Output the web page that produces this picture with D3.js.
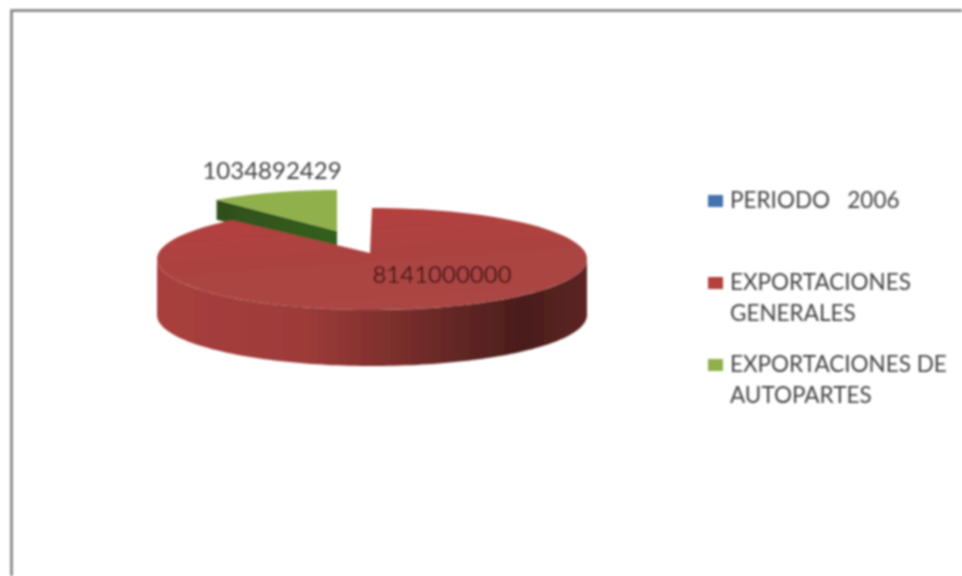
<!DOCTYPE html>
<html><head><meta charset="utf-8">
<script src="https://cdn.jsdelivr.net/npm/d3@7"></script>
<style>html,body{margin:0;padding:0;background:#fff}svg{display:block}text{font-family:Lato,"Open Sans",sans-serif}</style>
</head><body><svg id="c" width="962" height="576"></svg>
<script>
const categories = ["PERIODO   2006", "EXPORTACIONES GENERALES", "EXPORTACIONES DE AUTOPARTES"];
const values = [0, 8141000000, 1034892429];
const legendLines = [["PERIODO   2006"], ["EXPORTACIONES", "GENERALES"], ["EXPORTACIONES DE", "AUTOPARTES"]];
const colors = ["#4472b0", "#b5403e", "#90b04c"];

const svg = d3.select("#c");
const defs = svg.append("defs");
defs.append("filter").attr("id","blur").attr("x","-5%").attr("y","-5%").attr("width","110%").attr("height","110%")
  .append("feGaussianBlur").attr("stdDeviation",0.8);
const wall = defs.append("linearGradient").attr("id","wall").attr("gradientUnits","userSpaceOnUse")
  .attr("x1",157).attr("x2",587).attr("y1",0).attr("y2",0);
[[0,"#a8403e"],[0.35,"#9c3b39"],[0.62,"#702b29"],[0.85,"#4a1d1c"],[1,"#5c2523"]].forEach(([o,c])=>wall.append("stop").attr("offset",o).attr("stop-color",c));
const face = defs.append("linearGradient").attr("id","face").attr("x1",0).attr("x2",0.3).attr("y1",0).attr("y2",1);
[[0,"#b83f3d"],[0.5,"#ac4341"],[1,"#aa4644"]].forEach(([o,c])=>face.append("stop").attr("offset",o).attr("stop-color",c));
const side = defs.append("linearGradient").attr("id","gside").attr("x1",0).attr("x2",1);
[[0,"#2f4f1c"],[1,"#33601a"]].forEach(([o,c])=>side.append("stop").attr("offset",o).attr("stop-color",c));

const root = svg.append("g").attr("filter","url(#blur)");
root.append("path").attr("d","M11.5,576V10.5H962").attr("fill","none").attr("stroke","#7d7d7d").attr("stroke-width",2.5);

// projected pie: unit circle to screen through scales
const pie = d3.pie().sort(null).value(d=>d)(values);
const sx = d3.scaleLinear().domain([-1,1]).range([157,587]);
const sy = d3.scaleLinear().domain([-1,1]).range([208,310]);
const gx = d3.scaleLinear().domain([-1,1]).range([152,522]);
const gy = d3.scaleLinear().domain([-1,1]).range([190,272]);
const apex = [370,253], depth = 56, gDepth = 20;
const line = d3.line();
const arcPts = (a0,a1,X,Y,dy=0)=>{
  const n = 120;
  return d3.range(n+1).map(i=>{const a=a0+(a1-a0)*i/n; return [X(Math.sin(a)),Y(-Math.cos(a))+dy];});
};
const red = pie[1], green = pie[2];

// exploded green slice (angles wrap before the top of the pie)
const gA0 = green.startAngle - 2*Math.PI, gA1 = green.endAngle - 2*Math.PI;
const gTop = arcPts(gA0,gA1,gx,gy);
const gApex = [gx(0),gy(0)];
root.append("path").attr("fill","url(#gside)")
  .attr("d",line([gTop[0],gApex,[gApex[0],gApex[1]+gDepth],[gTop[0][0],gTop[0][1]+gDepth]])+"Z");
root.append("path").attr("fill",colors[2]).attr("d",line([gApex,...gTop])+"Z");

// red slice wall (front half only), then face
const front = arcPts(Math.PI/2,3*Math.PI/2,sx,sy);
const back = arcPts(Math.PI/2,3*Math.PI/2,sx,sy,depth).reverse();
root.append("path").attr("fill","url(#wall)").attr("d",line([...front,...back])+"Z");
root.append("path").attr("fill","url(#face)").attr("d",line([apex,...arcPts(red.startAngle,red.endAngle,sx,sy)])+"Z");

// data labels
root.append("text").attr("x",272).attr("y",179).attr("text-anchor","middle").attr("font-size",24).attr("fill","#454545").text(values[2]);
root.append("text").attr("x",442).attr("y",283).attr("text-anchor","middle").attr("font-size",24).attr("fill","#451616").text(values[1]);

// legend
const legendY = d3.scalePoint().domain(categories).range([208,372]);
const lg = root.selectAll("g.l").data(categories).join("g").attr("class","l")
  .attr("transform",d=>`translate(708,${legendY(d)})`);
lg.append("rect").attr("y",-13).attr("width",15).attr("height",12).attr("fill",(d,i)=>colors[i]);
lg.each(function(d,i){
  d3.select(this).selectAll("text").data(legendLines[i]).join("text")
    .attr("x",22).attr("y",(t,j)=>j*31).attr("font-size",22.5).attr("fill","#444")
    .style("white-space","pre").text(t=>t);
});
</script></body></html>
